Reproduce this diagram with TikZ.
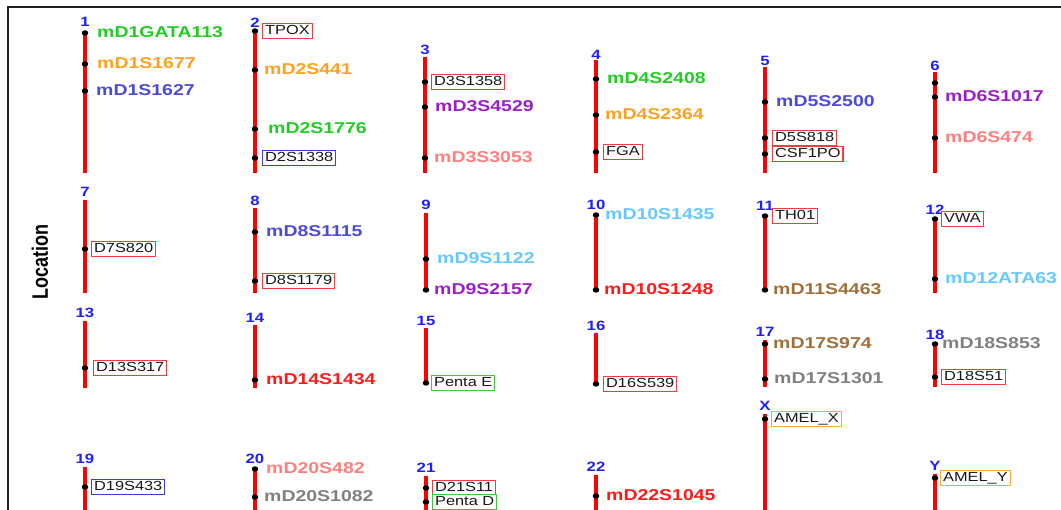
\documentclass[tikz,border=0pt]{standalone}
\usepackage{fontspec}
\usepackage{graphicx}
\setmainfont{Liberation Sans}[FakeStretch=1.24]
\newfontfamily\uprightsans{Liberation Sans}

\definecolor{cgreen}{HTML}{22CC22}
\definecolor{corange}{HTML}{FFA020}
\definecolor{cslate}{HTML}{4B4BD6}
\definecolor{cpurple}{HTML}{9A1FC8}
\definecolor{csalmon}{HTML}{FF7F7F}
\definecolor{clight}{HTML}{66C8FF}
\definecolor{cred}{HTML}{FF1A1A}
\definecolor{cbrown}{HTML}{A0703A}
\definecolor{cgray}{HTML}{808080}
\definecolor{cnum}{HTML}{1E1EFF}
\definecolor{bred}{HTML}{F03C3C}
\definecolor{bblue}{HTML}{3C3CE6}
\definecolor{bgreen}{HTML}{3CC83C}
\definecolor{borange}{HTML}{FFAA40}
\definecolor{btext}{HTML}{181818}
\definecolor{frame}{HTML}{202020}

\tikzset{
  chromline/.style={draw=red, line width=3.6pt},
  chrnum/.style={text=cnum, font=\bfseries\fontsize{13.5}{14}\selectfont, inner sep=0pt},
  dot/.style={fill=black, ellipse, inner sep=0pt, minimum width=6.5pt, minimum height=5.5pt},
  mlab/.style={font=\bfseries\fontsize{15.7}{17}\selectfont, inner sep=0pt, yshift=1pt},
  mgreen/.style={mlab, text=cgreen},
  morange/.style={mlab, text=corange},
  mslate/.style={mlab, text=cslate},
  mpurple/.style={mlab, text=cpurple},
  msalmon/.style={mlab, text=csalmon},
  mlight/.style={mlab, text=clight},
  mred/.style={mlab, text=cred},
  mbrown/.style={mlab, text=cbrown},
  mgray/.style={mlab, text=cgray},
  blab/.style={font=\fontsize{13.2}{14}\selectfont, text=btext, fill=white,
    line width=1.2pt, inner xsep=2.5pt, inner ysep=2pt, text height=9.5pt, text depth=1.5pt},
  bred/.style={blab, draw=bred},
  bblue/.style={blab, draw=bblue},
  bgreen/.style={blab, draw=bgreen},
  borange/.style={blab, draw=borange},
}
\usetikzlibrary{shapes.geometric}

% chromosome: id, x, top, bottom, number, number y
\newcommand\chromosome[6]{%
  \coordinate (#1t) at (#2,#3);
  \coordinate (#1b) at (#2,#4);
  \draw[chromline] (#1t) -- (#1b);
  \node[chrnum] (#1n) at (#2,#6) {#5};
}
% locus: id, x, y, label offset, style, text
\newcommand\locus[6]{%
  \node[dot] (#1d) at (#2,#3) {};
  \node[#5, anchor=west] (#1) at (#2+#4,#3) {#6};
}

\begin{document}
\begin{tikzpicture}[x=1pt, y=-1pt]
\useasboundingbox (0,0) rectangle (1061,510);

% outer frame
\coordinate (fbl) at (8,510);
\coordinate (ftl) at (8,7);
\coordinate (ftr) at (1061,7);
\draw[frame, line width=2.2pt] (fbl) -- (ftl) -- (ftr);

% axis title
\node[rotate=90, inner sep=0pt] (loc) at (40,262)
  {\scalebox{1}[1.24]{\uprightsans\bfseries\fontsize{18}{20}\selectfont Location}};

% row 1
\chromosome{c1}{85}{33}{173}{1}{22}
\chromosome{c2}{255}{31}{173}{2}{23}
\chromosome{c3}{425}{57}{173}{3}{50}
\chromosome{c4}{596}{60}{173}{4}{55}
\chromosome{c5}{765}{67}{173}{5}{61}
\chromosome{c6}{935}{72}{173}{6}{65.5}

\locus{m1a}{85}{33}{12}{mgreen}{mD1GATA113}
\locus{m1b}{85}{64}{12}{morange}{mD1S1677}
\locus{m1c}{85}{91}{11}{mslate}{mD1S1627}

\locus{m2a}{255}{31}{7}{bred}{TPOX}
\locus{m2b}{255}{70}{9}{morange}{mD2S441}
\locus{m2c}{255}{129}{13}{mgreen}{mD2S1776}
\locus{m2d}{255}{158}{7}{bblue}{D2S1338}

\locus{m3a}{425}{82}{6}{bred}{D3S1358}
\locus{m3b}{425}{107}{10}{mpurple}{mD3S4529}
\locus{m3c}{425}{158}{9}{msalmon}{mD3S3053}

\locus{m4a}{596}{79}{11}{mgreen}{mD4S2408}
\locus{m4b}{596}{115}{9}{morange}{mD4S2364}
\locus{m4c}{596}{152}{7}{bred}{FGA}

\locus{m5a}{765}{102}{11}{mslate}{mD5S2500}
\locus{m5b}{765}{138}{7}{bred}{D5S818}
\locus{m5c}{765}{154}{7}{bred}{CSF1PO}

\node[dot] (m6x) at (935,83) {};
\locus{m6a}{935}{97}{10}{mpurple}{mD6S1017}
\locus{m6b}{935}{138}{10}{msalmon}{mD6S474}

% row 2
\chromosome{c7}{85}{200}{293}{7}{192}
\chromosome{c8}{255}{208}{293}{8}{201}
\chromosome{c9}{426}{213}{290}{9}{205}
\chromosome{c10}{596}{215}{290}{10}{205}
\chromosome{c11}{765}{216}{290}{11}{206}
\chromosome{c12}{935}{219}{293}{12}{209.5}

\locus{m7a}{85}{249}{6}{bred}{D7S820}
\locus{m8a}{255}{232}{11}{mslate}{mD8S1115}
\locus{m8b}{255}{281}{7}{bred}{D8S1179}
\locus{m9a}{426}{259}{11}{mlight}{mD9S1122}
\locus{m9b}{426}{290}{8}{mpurple}{mD9S2157}
\locus{m10a}{596}{215}{9}{mlight}{mD10S1435}
\locus{m10b}{596}{290}{8}{mred}{mD10S1248}
\locus{m11a}{765}{216}{7}{bred}{TH01}
\locus{m11b}{765}{290}{8}{mbrown}{mD11S4463}
\locus{m12a}{935}{219}{6}{bred}{VWA}
\locus{m12b}{935}{279}{10}{mlight}{mD12ATA63}

% row 3
\chromosome{c13}{85}{321}{388}{13}{313}
\chromosome{c14}{255}{325}{388}{14}{318}
\chromosome{c15}{426}{328}{383}{15}{321}
\chromosome{c16}{596}{333}{384}{16}{326}
\chromosome{c17}{765}{340}{387}{17}{332}
\chromosome{c18}{935}{343}{387}{18}{335}
\chromosome{cX}{765}{414}{510}{X}{406}

\locus{m13a}{85}{368}{8}{bred}{D13S317}
\locus{m14a}{255}{380}{11}{mred}{mD14S1434}
\locus{m15a}{426}{383}{5}{bgreen}{Penta E}
\locus{m16a}{596}{384}{7}{bred}{D16S539}
\locus{m17a}{765}{344}{8}{mbrown}{mD17S974}
\locus{m17b}{765}{379}{9}{mgray}{mD17S1301}
\locus{m18a}{935}{344}{7}{mgray}{mD18S853}
\locus{m18b}{935}{377}{6}{bred}{D18S51}
\locus{mXa}{765}{419}{6}{borange}{AMEL\_X}

% row 4
\chromosome{c19}{85}{467}{510}{19}{459}
\chromosome{c20}{255}{469}{510}{20}{459}
\chromosome{c21}{426}{476}{510}{21}{468}
\chromosome{c22}{596}{475}{510}{22}{467}
\chromosome{cY}{935}{474}{510}{Y}{466}

\locus{m19a}{85}{487}{6}{bblue}{D19S433}
\locus{m20a}{255}{469}{11}{msalmon}{mD20S482}
\locus{m20b}{255}{497}{9}{mgray}{mD20S1082}
\locus{m21a}{426}{488}{6}{bred}{D21S11}
\locus{m21b}{426}{502}{6}{bgreen}{Penta D}
\locus{m22a}{596}{496}{10}{mred}{mD22S1045}
\locus{mYa}{935}{478}{5}{borange}{AMEL\_Y}
\end{tikzpicture}
\end{document}
